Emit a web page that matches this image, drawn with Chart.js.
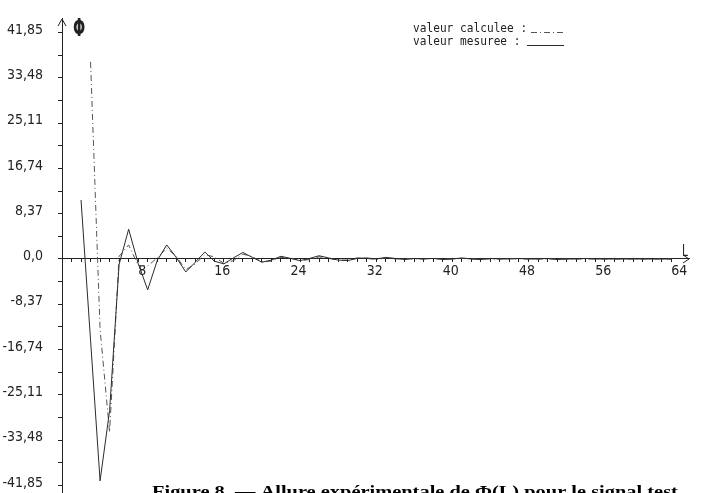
<!DOCTYPE html>
<html><head><meta charset="utf-8">
<script src="https://cdn.jsdelivr.net/npm/chart.js@4.4.0/dist/chart.umd.min.js"></script>
<style>html,body{margin:0;padding:0;background:#fff;}#wrap{width:702px;height:493px;position:relative;overflow:hidden}</style>
</head><body><div id="wrap"><canvas id="c" width="702" height="493"></canvas></div>
<script>
// ---- data ----
const measuredL = [2,3,4,5,6,7,8,9,10,11,12,13,14,15,16,17,18,19,20,21,22,23,24,25,26,27,28,29,30,31,32,33,34,35,36,37,38,39,40,41,42,43,44,45,46,47,48,49,50,51,52,53,54,55,56,57,58,59,60,61,62,63,64];
const measuredPhi = [10.9,-15,-41,-28,-1,5.5,-0.8,-5.7,-0.3,2.6,0.3,-2.4,-0.6,1.3,-0.4,-0.9,0.2,1.2,0.3,-0.6,-0.2,0.5,0.1,-0.3,0.1,0.6,0.2,-0.2,-0.3,0.1,0.2,0.0,0.3,0.1,-0.1,0.1,0.0,0.1,-0.1,0.0,0.2,0.0,-0.1,0.1,0.0,0.0,0.1,0.0,0.0,0.1,-0.1,0.0,0.0,0.1,0.0,0.0,0.0,0.0,0.0,0.0,0.0,0.0,0.0];
const calculatedL = [3,4,5,6,7,8,9,10,11,12,13,14,15,16,17,18,19,20,21,22,23,24,25,26,27,28,29,30,31,32,33,34,35,36,37,38,39,40,41,42,43,44,45,46,47,48,49,50,51,52,53,54,55,56,57,58,59,60,61,62,63,64];
const calculatedPhi = [36.4,-13,-32,0.5,2.6,-1.2,-1.3,0.2,2.0,0.5,-2.0,-0.9,0.8,0.4,-0.8,-0.3,0.9,0.4,-0.5,-0.4,0.3,0.2,-0.3,-0.1,0.4,0.1,-0.2,-0.2,0.2,0.1,-0.1,0.2,0.0,0.1,0.0,0.0,0.1,0.0,0.0,0.1,0.0,0.0,0.0,0.0,0.1,0.0,0.0,0.0,0.0,0.0,0.0,0.0,0.0,0.0,0.0,0.0,0.0,0.0,0.0,0.0,0.0,0.0];
const yTickValues = [41.85,33.48,25.11,16.74,8.37,0,-8.37,-16.74,-25.11,-33.48,-41.85];
const yTickLabels = ['41,85','33,48','25,11','16,74','8,37','0,0','-8,37','-16,74','-25,11','-33,48','-41,85'];
const xTickValues = [8,16,24,32,40,48,56,64];
const xTickLabels = ['8','16','24','32','40','48','56','64'];
const legendLabels = ['valeur calculee :', 'valeur mesuree :'];
const yAxisTitle = 'Φ';
const xAxisTitle = 'L';
const caption = 'Figure 8  — Allure expérimentale de Φ(L) pour le signal test.';

const INK = '#222';
const narrow = '"Liberation Sans Narrow", "DejaVu Sans Condensed", sans-serif';

const deco = {
  id: 'deco',
  afterDraw(chart) {
    const ctx = chart.ctx;
    const xs = chart.scales.x, ys = chart.scales.y;
    const x0 = xs.getPixelForValue(0), y0 = ys.getPixelForValue(0);
    const top = chart.chartArea.top, right = chart.chartArea.right;
    ctx.save();
    ctx.strokeStyle = INK; ctx.lineWidth = 1;
    // arrows
    ctx.beginPath();
    ctx.moveTo(x0 - 4, top + 8); ctx.lineTo(x0, top + 1); ctx.lineTo(x0 + 4, top + 8);
    ctx.moveTo(right - 6, y0 - 4); ctx.lineTo(right, y0); ctx.lineTo(right - 6, y0 + 4);
    ctx.stroke();
    // axis titles
    ctx.fillStyle = INK;
    ctx.save();
    ctx.translate(x0 + 17, 36); ctx.scale(0.6, 1);
    ctx.font = 'bold 24px "DejaVu Sans"'; ctx.textAlign = 'center'; ctx.textBaseline = 'alphabetic';
    ctx.fillText(yAxisTitle, 0, 0);
    ctx.restore();
    ctx.save();
    ctx.translate(right - 4, y0 - 3); ctx.scale(0.7, 1);
    ctx.font = '15px "DejaVu Sans"'; ctx.textAlign = 'center'; ctx.textBaseline = 'alphabetic';
    ctx.fillText(xAxisTitle, 0, 0);
    ctx.restore();
    // legend
    const legendY = [32, 45];
    const lineStart = [531, 527];
    const styles = [chart.data.datasets[1], chart.data.datasets[0]];
    for (let i = 0; i < 2; i++) {
      ctx.save();
      ctx.translate(413, legendY[i]); ctx.scale(0.93, 1);
      ctx.font = '12px "DejaVu Sans Mono"'; ctx.textAlign = 'left'; ctx.textBaseline = 'alphabetic';
      ctx.fillText(legendLabels[i], 0, 0);
      ctx.restore();
      ctx.beginPath();
      ctx.setLineDash(styles[i].borderDash || []);
      ctx.strokeStyle = styles[i].borderColor;
      ctx.moveTo(lineStart[i], legendY[i] + 0.5); ctx.lineTo(564, legendY[i] + 0.5);
      ctx.stroke();
      ctx.setLineDash([]);
    }
    // caption
    ctx.font = 'bold 17px "Liberation Serif", "DejaVu Serif", serif';
    const w = ctx.measureText(caption).width;
    ctx.save();
    ctx.translate(152, 497); ctx.scale(531 / w, 1);
    ctx.textAlign = 'left'; ctx.textBaseline = 'alphabetic'; ctx.fillStyle = '#000';
    ctx.fillText(caption, 0, 0);
    ctx.restore();
    ctx.restore();
  }
};

function labelFor(values, labels, v) {
  for (let i = 0; i < values.length; i++) if (Math.abs(values[i] - v) < 1e-6) return labels[i];
  return '';
}

new Chart(document.getElementById('c'), {
  type: 'line',
  data: {
    datasets: [
      { label: 'valeur mesuree', data: measuredL.map((x, i) => ({x, y: measuredPhi[i]})),
        borderColor: '#2b2b2b', borderWidth: 1, pointRadius: 0, tension: 0, fill: false },
      { label: 'valeur calculee', data: calculatedL.map((x, i) => ({x, y: calculatedPhi[i]})),
        borderColor: '#555', borderWidth: 1, borderDash: [6, 3, 1, 3], pointRadius: 0, tension: 0, fill: false }
    ]
  },
  options: {
    responsive: false, animation: false, devicePixelRatio: 1,
    layout: { padding: { left: 0, right: 13, top: 18, bottom: 0 } },
    plugins: { legend: { display: false }, tooltip: { enabled: false } },
    scales: {
      x: {
        type: 'linear', min: 0, max: 65.86, position: { y: 0 },
        afterBuildTicks(s) { const t = []; for (let v = 1; v <= 64; v++) t.push({value: v}); s.ticks = t; },
        afterFit(s) { s.paddingLeft = 0; s.paddingRight = 0; },
        ticks: { autoSkip: false, maxRotation: 0, align: 'start', padding: 1, color: INK,
          font: { family: narrow, size: 14 }, callback: (v) => labelFor(xTickValues, xTickLabels, v) },
        grid: { drawOnChartArea: false, tickLength: 3, color: INK },
        border: { display: true, color: INK, width: 1 }
      },
      y: {
        type: 'linear', min: -43.24, max: 44.53, position: 'left',
        afterBuildTicks(s) {
          const t = [];
          for (let i = 0; i < yTickValues.length; i++) {
            t.push({value: yTickValues[i]});
            if (i < yTickValues.length - 1) t.push({value: (yTickValues[i] + yTickValues[i + 1]) / 2});
          }
          s.ticks = t.sort((a, b) => a.value - b.value);
        },
        afterFit(s) { s.width = 62; s.paddingTop = 0; s.paddingBottom = 0; },
        ticks: { autoSkip: false, padding: 15, labelOffset: -2.5, color: INK,
          font: { family: narrow, size: 14 }, callback: (v) => labelFor(yTickValues, yTickLabels, v) },
        grid: { drawOnChartArea: false, tickLength: 4, color: INK },
        border: { display: true, color: INK, width: 1 }
      }
    }
  },
  plugins: [deco]
});
</script></body></html>
